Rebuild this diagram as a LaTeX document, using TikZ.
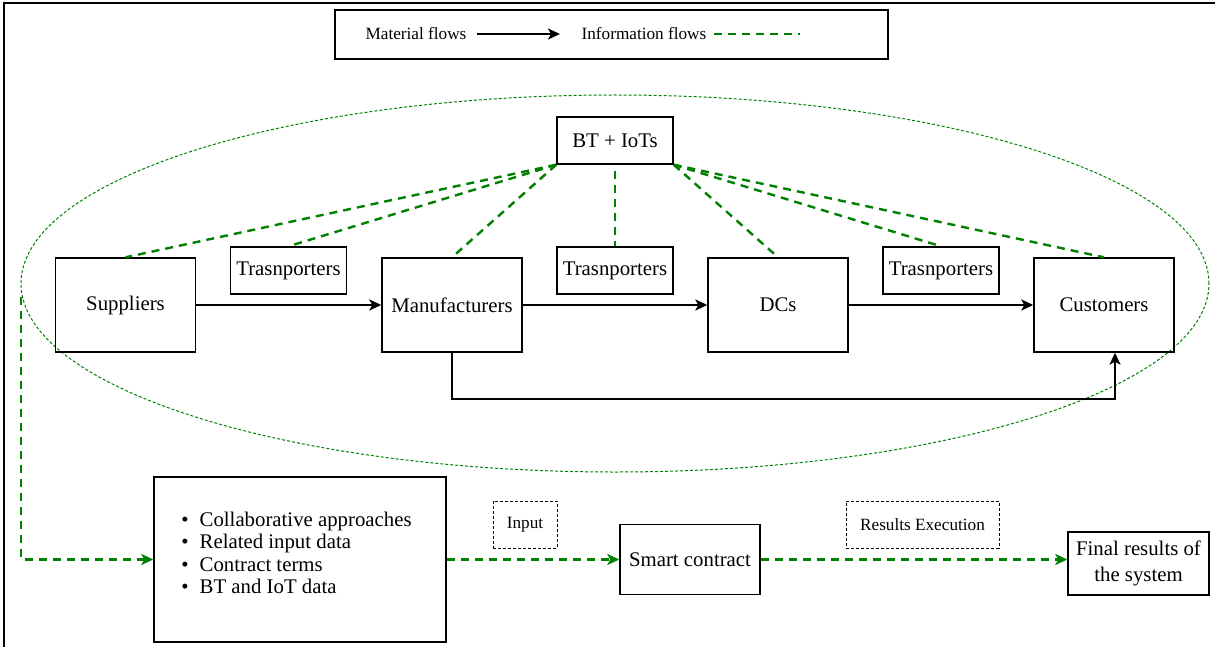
\documentclass[tikz,border=0pt]{standalone}
\usepackage{fontspec}
\setmainfont{Liberation Serif}
\newfontfamily\tnr{Liberation Serif}
\usetikzlibrary{arrows.meta,shapes.geometric,calc}
\definecolor{flowgreen}{RGB}{0,128,0}
\begin{document}
\begin{tikzpicture}[x=0.5pt,y=-0.5pt,
  box/.style={draw,line width=0.7pt,minimum width=70pt,minimum height=47pt,inner sep=0pt,font=\tnr\fontsize{10.4}{12}\selectfont},
  tbox/.style={box,minimum width=58pt,minimum height=23.5pt},
  lbox/.style={draw,line width=0.5pt,dash pattern=on 1.5pt off 1pt,inner sep=0pt,minimum height=23.5pt,font=\tnr\fontsize{8.6}{10}\selectfont},
  flow/.style={line width=1pt,-{Stealth[length=6pt,width=5.5pt,inset=1.5pt]}},
  info/.style={flowgreen,line width=1.2pt,dash pattern=on 4pt off 3pt},
  infoarrow/.style={info,-{Stealth[length=6pt,width=5.5pt,inset=1.5pt]}},
  lab/.style={inner sep=0pt,font=\tnr\fontsize{8.6}{10}\selectfont},
  item/.style={inner sep=0pt,anchor=base west,font=\tnr\fontsize{10.4}{12}\selectfont}
]
\useasboundingbox (0,0) rectangle (1215,647);
% frame (cropped at right and bottom)
\draw[line width=1.2pt] (4,650) -- (4,3) -- (1218,3);

% legend
\node[draw,line width=0.7pt,minimum width=276.5pt,minimum height=24.5pt,inner sep=0pt] (legend) at (611.5,34.5) {};
\node[lab] (lmat) at (416,34) {Material flows};
\coordinate (la1) at (477,34);
\coordinate (la2) at (560,34);
\draw[flow] (la1) -- (la2);
\node[lab] (linf) at (644,34) {Information flows};
\coordinate (lg1) at (714,34);
\coordinate (lg2) at (800,34);
\draw[info] (lg1) -- (lg2);

% ellipse
\node[draw=flowgreen,line width=0.5pt,dash pattern=on 1.5pt off 1pt,ellipse,minimum width=594pt,minimum height=188.5pt,inner sep=0pt] (ell) at (615,283.5) {};

% BT box
\node[box,minimum width=58pt,minimum height=23.5pt] (bt) at (615,140.5) {BT + IoTs};

% main row
\node[box] (sup) at (125.5,305) {Suppliers};
\node[box] (man) at (452,305) {Manufacturers};
\node[box] (dcs) at (778,305) {DCs};
\node[box] (cus) at (1104,305) {Customers};
\node[tbox] (t1) at (288.5,270.5) {Trasnporters};
\node[tbox] (t2) at (615,270.5) {Trasnporters};
\node[tbox] (t3) at (941,270.5) {Trasnporters};

\draw[flow] (sup) -- (man);
\draw[flow] (man) -- (dcs);
\draw[flow] (dcs) -- (cus);
\draw[flow] (man.south) -- ++(0,46) -| ([xshift=5.5pt]cus.south);

% info lines
\draw[info] (bt.south west) -- (sup.north);
\draw[info] (bt.south west) -- (t1.north);
\draw[info] (bt.south west) -- (man.north);
\draw[info] ([yshift=-3pt]bt.south) -- (t2.north);
\draw[info] (bt.south east) -- (dcs.north);
\draw[info] (bt.south east) -- (t3.north);
\draw[info] (bt.south east) -- (cus.north);

% lower section
\node[box,minimum width=146pt,minimum height=82.5pt] (list) at (300,559.5) {};
\node[item] (i1) at (181,526) {\textbullet\hspace{5.5pt}Collaborative approaches};
\node[item] (i2) at (181,548.5) {\textbullet\hspace{5.5pt}Related input data};
\node[item] (i3) at (181,571) {\textbullet\hspace{5.5pt}Contract terms};
\node[item] (i4) at (181,593.5) {\textbullet\hspace{5.5pt}BT and IoT data};
\node[lbox,minimum width=32pt] (inp) at (525,524.5) {Input};
\node[box,minimum width=70pt,minimum height=35pt] (sc) at (690,559.5) {Smart contract};
\node[lbox,minimum width=76.5pt] (res) at (922.5,524.5) {Results Execution};
\node[box,minimum width=70.5pt,minimum height=31.5pt,align=center,font=\tnr\fontsize{10.4}{13}\selectfont] (fin) at (1138.5,563.5) {Final results of\\the system};

\coordinate (st) at (21,297);
\draw[infoarrow] (st) |- (list.west);
\draw[infoarrow] (list.east) -- (list.east -| sc.west);
\draw[infoarrow] (sc.east) -- (sc.east -| fin.west);
\end{tikzpicture}
\end{document}
